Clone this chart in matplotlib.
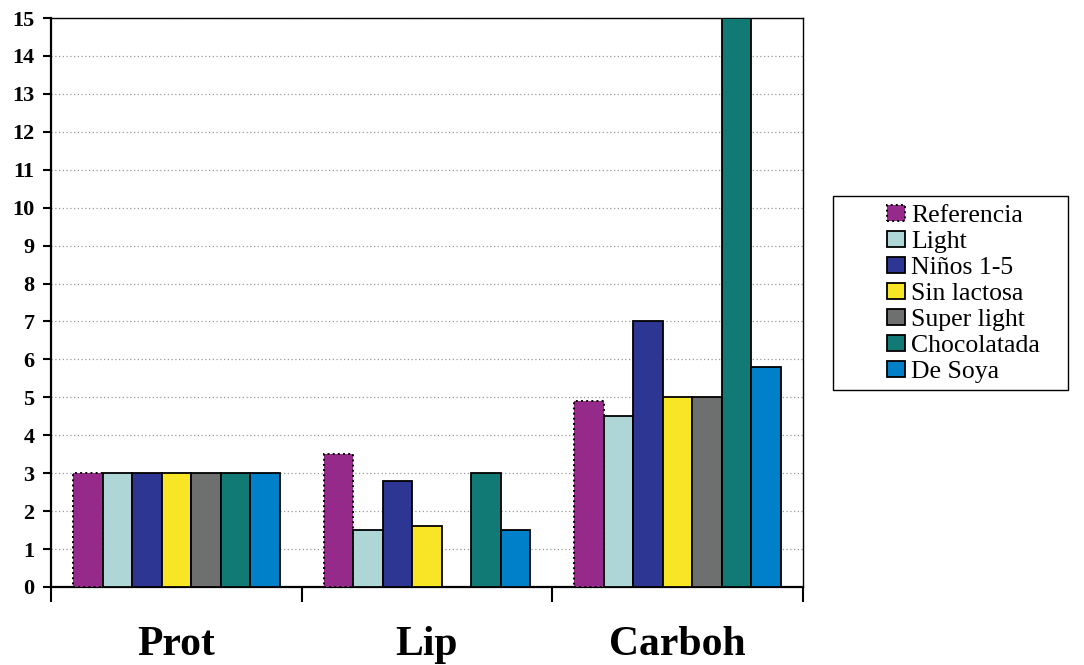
import matplotlib as mpl
from matplotlib import pyplot as plt
from matplotlib.patches import Rectangle
import numpy as np

mpl.rcParams["font.family"] = ["Liberation Serif", "DejaVu Serif"]

categories = ["Prot", "Lip", "Carboh"]
series = ["Referencia", "Light", "Niños 1-5", "Sin lactosa",
          "Super light", "Chocolatada", "De Soya"]
values = {
    "Referencia":  [3, 3.5, 4.9],
    "Light":       [3, 1.5, 4.5],
    "Niños 1-5":   [3, 2.8, 7.0],
    "Sin lactosa": [3, 1.6, 5.0],
    "Super light": [3, 0.0, 5.0],
    "Chocolatada": [3, 3.0, 15.0],
    "De Soya":     [3, 1.5, 5.8],
}
colors = ["#952A8B", "#AED6D6", "#2E3694", "#F8E525",
          "#6E7070", "#127A75", "#0080C8"]

fig = plt.figure(figsize=(10.84, 6.65), dpi=100)
ax = fig.add_axes([51/1084, 1-587/665, (803-51)/1084, (587-18)/665])

x = np.arange(len(categories))
w = 0.1177
for i, name in enumerate(series):
    off = (i - 3) * w
    if name == "Referencia":
        ax.bar(x + off, values[name], w, color=colors[i], edgecolor="black",
               linewidth=1.4, linestyle=":", label=name, zorder=3)
    else:
        ax.bar(x + off, values[name], w, color=colors[i], edgecolor="black",
               linewidth=1.3, label=name, zorder=3)

ax.set_xlim(-0.5, 2.5)
ax.set_ylim(0, 15)
ax.yaxis.set_major_locator(plt.MultipleLocator(1))
ax.grid(axis="y", linestyle=(0, (1, 2)), color="#999999", linewidth=0.9, zorder=0)

ax.set_xticks(x)
ax.set_xticklabels(categories, fontsize=30, fontweight="bold")
ax.set_xticks([-0.5, 0.5, 1.5, 2.5], minor=True)
ax.tick_params(axis="x", which="major", length=0, pad=28)
ax.tick_params(axis="x", which="minor", length=11, width=1.5, direction="out")
ax.tick_params(axis="y", length=6, width=1.5, direction="out", pad=6)
for lab in ax.get_yticklabels():
    lab.set_fontsize(16)
    lab.set_fontweight("bold")

for s in ["left", "bottom"]:
    ax.spines[s].set_linewidth(1.6)
for s in ["top", "right"]:
    ax.spines[s].set_linewidth(1.0)

fig.patches.append(Rectangle((833/1084, 1-390/665), (1068-833)/1084, (390-196)/665,
                             transform=fig.transFigure, fill=False,
                             edgecolor="black", linewidth=1.0))
leg = fig.legend(loc="upper left", bbox_to_anchor=(887/1084, 1-205/665),
                 frameon=False, fontsize=18.5, handlelength=0.7, handleheight=0.6,
                 handletextpad=0.25, labelspacing=0.145, borderpad=0, borderaxespad=0)

fig.savefig("out.png", dpi=100)
